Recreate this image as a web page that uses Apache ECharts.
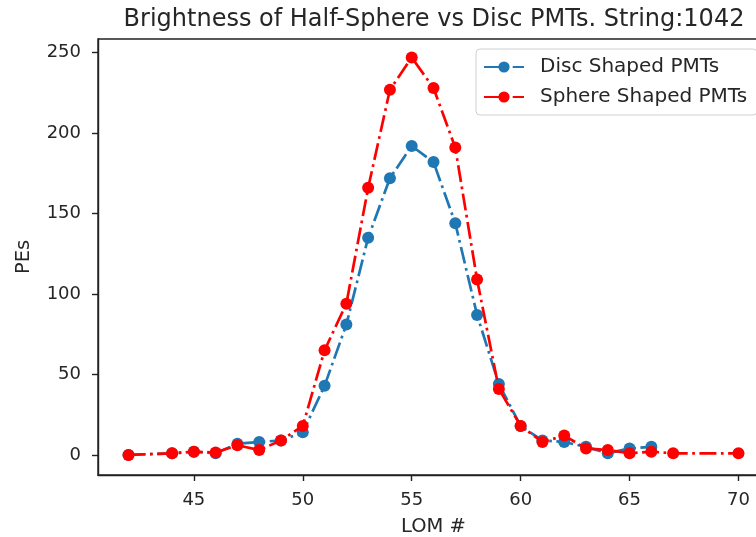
<!DOCTYPE html>
<html>
<head>
<meta charset="utf-8">
<script src="https://cdn.jsdelivr.net/npm/echarts@6/dist/echarts.min.js"></script>
<style>
  html, body { margin: 0; padding: 0; background: #fff; }
  #chart { width: 756px; height: 537px; }
</style>
</head>
<body>
<div id="chart"></div>
<script>
// LOM numbers (x) and PE counts
const discLom = [42, 44, 45, 46, 47, 48, 49, 50, 51, 52, 53, 54, 55, 56, 57, 58, 59, 60, 61, 62, 63, 64, 65, 66];
const discPEs = [0, 1, 2, 1, 7, 8, 9, 14, 43, 81, 135, 172, 192, 182, 144, 87, 44, 18, 9, 8, 5, 1, 4, 5];

const sphereLom = [42, 44, 45, 46, 47, 48, 49, 50, 51, 52, 53, 54, 55, 56, 57, 58, 59, 60, 61, 62, 63, 64, 65, 66, 67, 70];
const spherePEs = [0, 1, 2, 1.5, 6, 3, 9, 18, 65, 94, 166, 227, 247, 228, 191, 109, 41, 18, 8, 12, 4, 3, 1, 2, 1, 1];

const xTicks = [45, 50, 55, 60, 65, 70];
const yTicks = [0, 50, 100, 150, 200, 250];

const font = 'DejaVu Sans';
const textColor = '#262626';
const dashDot = [17, 4.5, 2.7, 4.5];

function pairs(xs, ys) {
    return xs.map((x, i) => [x, ys[i]]);
}

const chart = echarts.init(document.getElementById('chart'), null, { renderer: 'canvas' });

const option = {
    animation: false,
    backgroundColor: '#fff',
    textStyle: { fontFamily: font, color: textColor },
    title: {
        text: 'Brightness of Half-Sphere vs Disc PMTs. String:1042',
        left: 429,
        textAlign: 'center',
        top: 3,
        textStyle: { fontFamily: font, fontSize: 24, fontWeight: 'normal', color: textColor }
    },
    grid: {
        left: 98,
        top: 39,
        bottom: 62,
        right: -13,
        outerBoundsMode: 'none',
        show: true,
        borderColor: '#222',
        borderWidth: 1.4,
        backgroundColor: '#fff'
    },
    legend: {
        orient: 'vertical',
        left: 476,
        top: 49,
        padding: [8, 10, 8, 7],
        itemGap: 10,
        itemWidth: 40,
        itemHeight: 14,
        backgroundColor: 'rgba(255,255,255,0.8)',
        borderColor: '#d0d0d0',
        borderWidth: 1,
        borderRadius: 4,
        textStyle: { fontFamily: font, fontSize: 20, lineHeight: 20, color: textColor, padding: [0, 0, 0, 11] },
        data: ['Disc Shaped PMTs', 'Sphere Shaped PMTs']
    },
    xAxis: {
        type: 'value',
        min: 40.6,
        max: 71.4,
        name: 'LOM #',
        nameLocation: 'middle',
        nameGap: 42,
        nameTextStyle: { fontFamily: font, fontSize: 19.5, color: textColor },
        splitLine: { show: false },
        axisLine: { show: true, onZero: false, lineStyle: { color: '#222', width: 1.4 } },
        axisTick: { show: true, length: 6, lineStyle: { color: '#222', width: 1.4 }, customValues: xTicks },
        axisLabel: { fontFamily: font, fontSize: 18, color: textColor, margin: 16, customValues: xTicks }
    },
    yAxis: {
        type: 'value',
        min: -12.5,
        max: 258.5,
        name: 'PEs',
        nameLocation: 'middle',
        nameGap: 64,
        nameRotate: 90,
        nameTextStyle: { fontFamily: font, fontSize: 19.5, color: textColor },
        splitLine: { show: false },
        axisLine: { show: true, onZero: false, lineStyle: { color: '#222', width: 1.4 } },
        axisTick: { show: true, length: 6, lineStyle: { color: '#222', width: 1.4 }, customValues: yTicks },
        axisLabel: { fontFamily: font, fontSize: 18, color: textColor, margin: 17, customValues: yTicks }
    },
    series: [
        {
            name: 'Disc Shaped PMTs',
            type: 'line',
            data: pairs(discLom, discPEs),
            symbol: 'circle',
            symbolSize: 12,
            itemStyle: { color: '#1f77b4' },
            lineStyle: { color: '#1f77b4', width: 2.7, type: dashDot },
            z: 2
        },
        {
            name: 'Sphere Shaped PMTs',
            type: 'line',
            data: pairs(sphereLom, spherePEs),
            symbol: 'circle',
            symbolSize: 12,
            itemStyle: { color: '#ff0000' },
            lineStyle: { color: '#ff0000', width: 2.7, type: dashDot },
            z: 3
        }
    ]
};

chart.setOption(option);
</script>
</body>
</html>
